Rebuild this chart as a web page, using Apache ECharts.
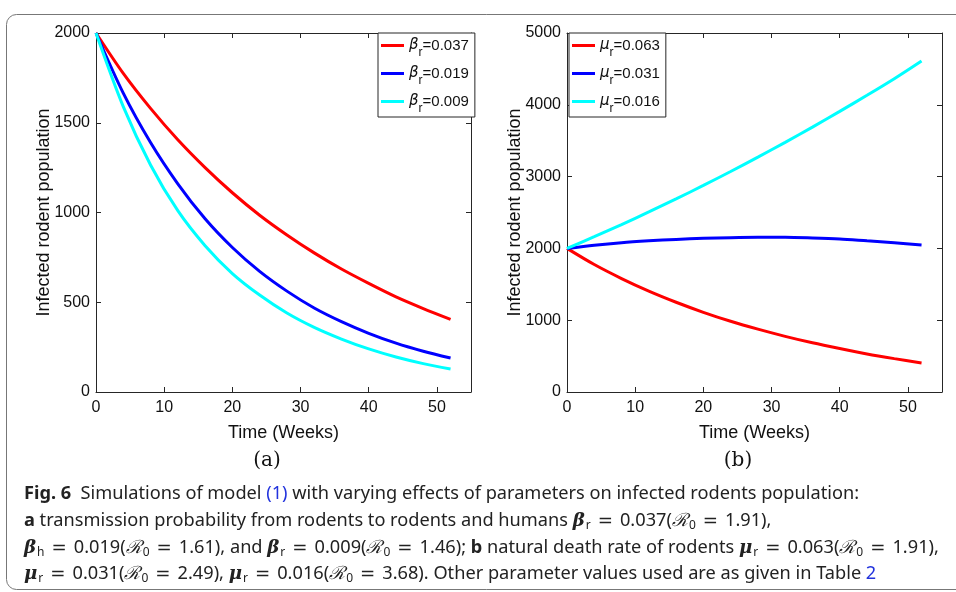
<!DOCTYPE html>
<html>
<head>
<meta charset="utf-8">
<script src="https://cdn.jsdelivr.net/npm/echarts@6/dist/echarts.min.js"></script>
<style>
  html, body { margin: 0; padding: 0; background: #fff; }
  #chart { width: 956px; height: 592px; }
</style>
</head>
<body>
<div id="chart"></div>
<script>
// time points (weeks)
const weeks = [0, 4, 8, 12, 16, 20, 24, 28, 32, 36, 40, 44, 48, 52];

// (a) varying beta_r
const betaNames = ['0.037', '0.019', '0.009'];
const betaHigh = [2000, 1775, 1580, 1405, 1250, 1110, 985, 875, 775, 685, 605, 530, 465, 405];
const betaMid = [2000, 1665, 1390, 1160, 965, 805, 672, 562, 468, 392, 327, 272, 227, 189];
const betaLow = [2000, 1590, 1265, 1010, 815, 660, 540, 440, 360, 295, 240, 195, 158, 128];

// (b) varying mu_r
const muNames = ['0.063', '0.031', '0.016'];
const muHigh = [2000, 1775, 1580, 1405, 1250, 1110, 985, 875, 775, 685, 605, 530, 465, 405];
const muMid = [2000, 2045, 2080, 2105, 2125, 2140, 2150, 2155, 2155, 2145, 2130, 2105, 2080, 2047];
const muLow = [2000, 2163, 2332, 2508, 2689, 2877, 3071, 3271, 3477, 3689, 3908, 4132, 4363, 4610];

const xTicks = { min: 0, max: 55, interval: 10 };
const leftY = { min: 0, max: 2000, interval: 500 };
const rightY = { min: 0, max: 5000, interval: 1000 };

const colors = ['#ff0000', '#0000ff', '#00ffff'];
const axisColor = '#262626';
const sansFont = 'Liberation Sans';

const pair = vals => weeks.map((w, i) => [w, vals[i]]);

function xAxes(gridIndex) {
  const base = {
    gridIndex, type: 'value', ...xTicks,
    splitLine: { show: false },
    axisLine: { show: true, onZero: false, lineStyle: { color: axisColor, width: 1 } },
    axisTick: { inside: true, length: 5, lineStyle: { color: axisColor } }
  };
  return [
    {
      ...base, position: 'bottom',
      axisLabel: { color: '#111', fontSize: 16, fontFamily: sansFont, margin: 8, showMaxLabel: false, formatter: v => String(v) },
      name: 'Time (Weeks)', nameLocation: 'middle', nameGap: 32,
      nameTextStyle: { color: '#111', fontSize: 18, fontFamily: sansFont }
    },
    { ...base, position: 'top', axisLabel: { show: false } }
  ];
}

function yAxes(gridIndex, ext) {
  const base = {
    gridIndex, type: 'value', ...ext,
    splitLine: { show: false },
    axisLine: { show: true, onZero: false, lineStyle: { color: axisColor, width: 1 } },
    axisTick: { inside: true, length: 5, lineStyle: { color: axisColor } }
  };
  return [
    {
      ...base, position: 'left',
      axisLabel: { color: '#111', fontSize: 16, fontFamily: sansFont, margin: 6, formatter: v => String(v) },
      name: 'Infected rodent population', nameLocation: 'middle', nameGap: 43, nameMoveOverlap: false,
      nameTextStyle: { color: '#111', fontSize: 18, fontFamily: sansFont }
    },
    { ...base, position: 'right', axisLabel: { show: false } }
  ];
}

function lineSeries(name, vals, color, xi, yi) {
  return {
    type: 'line', name, data: pair(vals), xAxisIndex: xi, yAxisIndex: yi,
    smooth: 0.3, showSymbol: false, symbol: 'none',
    lineStyle: { color, width: 3 }, itemStyle: { color }
  };
}

const legendRich = {
  g: { fontFamily: 'DejaVu Sans', fontStyle: 'italic', fontSize: 15, color: '#111' },
  s: { fontFamily: sansFont, fontSize: 12, color: '#111', padding: [15, 0, 0, 0] },
  t: { fontFamily: sansFont, fontSize: 15, color: '#111' }
};

function legendFor(left, sym, names, prefix) {
  return {
    orient: 'vertical', left, top: 33,
    data: names.map(n => prefix + n),
    formatter: name => '{g|' + sym + '}{s|r}{t|=' + name.slice(prefix.length) + '}',
    icon: 'rect', itemWidth: 23, itemHeight: 3, itemGap: 7,
    backgroundColor: '#fff', borderColor: axisColor, borderWidth: 1, borderRadius: 0,
    padding: [5, 6, 2, 3],
    textStyle: { rich: legendRich }
  };
}

const capFont = 'Noto Sans';
const capSize = 18.2;
const capRich = {
  b: { fontFamily: capFont, fontWeight: 'bold', fontSize: capSize, fill: '#222' },
  l: { fontFamily: capFont, fontSize: capSize, fill: '#2233dd' },
  m: { fontFamily: 'DejaVu Serif', fontStyle: 'italic', fontWeight: 'bold', fontSize: capSize, fill: '#222' },
  c: { fontFamily: 'DejaVu Serif', fontStyle: 'italic', fontSize: capSize, fill: '#222' },
  e: { fontFamily: 'DejaVu Sans', fontSize: capSize, fill: '#222', padding: [0, 7, 0, 7] },
  s: { fontFamily: capFont, fontSize: 12, fill: '#222', padding: [9, 0, 0, 1] }
};
const R0 = '{c|\u211B}{s|0}';
const EQ = '{e|=}';
const captionLines = [
  '{b|Fig. 6}  Simulations of model {l|(1)} with varying effects of parameters on infected rodents population:',
  '{b|a} transmission probability from rodents to rodents and humans {m|β}{s|r}' + EQ + '0.037(' + R0 + EQ + '1.91),',
  '{m|β}{s|h}' + EQ + '0.019(' + R0 + EQ + '1.61), and {m|β}{s|r}' + EQ + '0.009(' + R0 + EQ + '1.46); {b|b} natural death rate of rodents {m|μ}{s|r}' + EQ + '0.063(' + R0 + EQ + '1.91),',
  '{m|μ}{s|r}' + EQ + '0.031(' + R0 + EQ + '2.49), {m|μ}{s|r}' + EQ + '0.016(' + R0 + EQ + '3.68). Other parameter values used are as given in Table {l|2}'
];
const captionY = [494, 521, 548, 574];

const chart = echarts.init(document.getElementById('chart'));
chart.setOption({
  animation: false,
  backgroundColor: '#fff',
  grid: [
    { left: 96, top: 33, width: 375, height: 359 },
    { left: 567, top: 33, width: 375, height: 359 }
  ],
  xAxis: [...xAxes(0), ...xAxes(1)],
  yAxis: [...yAxes(0, leftY), ...yAxes(1, rightY)],
  legend: [
    legendFor(378, 'β', betaNames, 'b'),
    legendFor(569, 'μ', muNames, 'm')
  ],
  series: [
    lineSeries('b' + betaNames[0], betaHigh, colors[0], 0, 0),
    lineSeries('b' + betaNames[1], betaMid, colors[1], 0, 0),
    lineSeries('b' + betaNames[2], betaLow, colors[2], 0, 0),
    lineSeries('m' + muNames[0], muHigh, colors[0], 2, 2),
    lineSeries('m' + muNames[1], muMid, colors[1], 2, 2),
    lineSeries('m' + muNames[2], muLow, colors[2], 2, 2)
  ],
  graphic: [
    {
      type: 'rect', z: -10, silent: true,
      shape: { x: 6.5, y: 14.5, width: 1000, height: 575, r: 10 },
      style: { fill: 'none', stroke: '#777', lineWidth: 1 }
    },
    {
      type: 'text', x: 267, y: 461,
      style: { text: '(a)', fontFamily: 'DejaVu Serif', fontSize: 20, fill: '#111', align: 'center', verticalAlign: 'middle' }
    },
    {
      type: 'text', x: 738, y: 461,
      style: { text: '(b)', fontFamily: 'DejaVu Serif', fontSize: 20, fill: '#111', align: 'center', verticalAlign: 'middle' }
    },
    ...captionLines.map((t, i) => ({
      type: 'text', x: 24, y: captionY[i],
      style: { text: t, rich: capRich, fontFamily: capFont, fontSize: capSize, fill: '#222', verticalAlign: 'middle' }
    }))
  ]
});
</script>
</body>
</html>
